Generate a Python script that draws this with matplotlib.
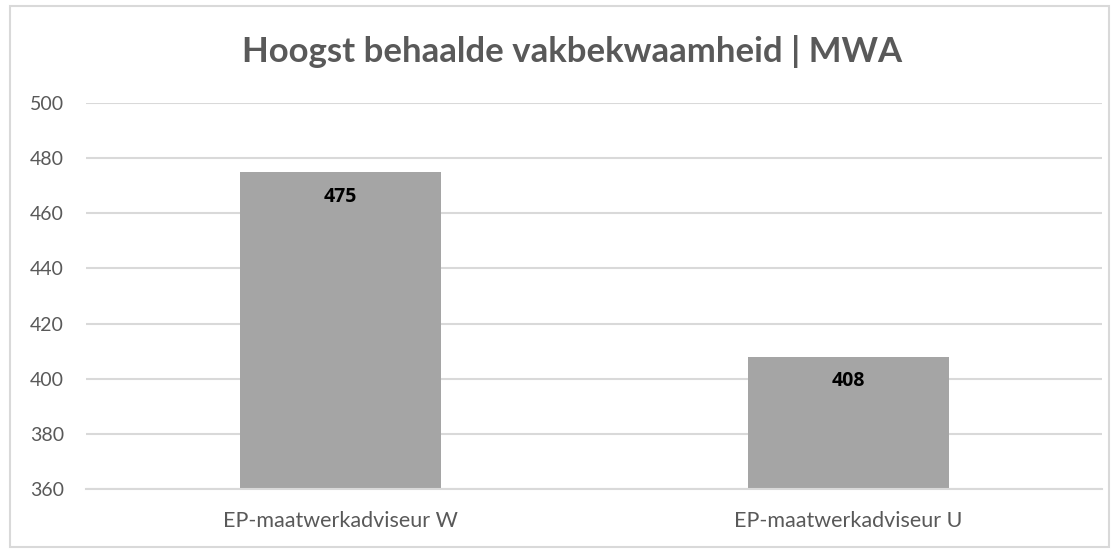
import matplotlib.pyplot as plt
from matplotlib.patches import Rectangle

categories = ['EP-maatwerkadviseur W', 'EP-maatwerkadviseur U']
values = [475, 408]
yticks = [360, 380, 400, 420, 440, 460, 480, 500]

plt.rcParams['font.family'] = ['Lato', 'DejaVu Sans']

fig = plt.figure(figsize=(11.19, 5.53), dpi=100)
ax = fig.add_axes([0.077, 0.1157, 0.908, 0.698])

x = range(len(categories))
bars = ax.bar(x, values, width=0.396, color='#A5A5A5', zorder=2)
for b, v in zip(bars, values):
    ax.text(b.get_x() + b.get_width() / 2, v - 9, str(v), ha='center', va='center',
            fontsize=14, fontweight='bold', color='black', family=['Open Sans', 'DejaVu Sans'])

ax.set_xlim(-0.5, 1.5)
ax.set_ylim(360, 500)
ax.set_yticks(yticks)
ax.set_xticks(list(x))
ax.set_xticklabels(categories)
ax.yaxis.grid(True, color='#D9D9D9', linewidth=1.5, zorder=0)
ax.tick_params(axis='both', length=0, labelcolor='#595959')
ax.tick_params(axis='y', pad=16, labelsize=14)
ax.tick_params(axis='x', pad=16, labelsize=15.5)
for s in ax.spines.values():
    s.set_visible(False)
ax.spines['bottom'].set_visible(True)
ax.spines['bottom'].set_color('#D9D9D9')
ax.spines['bottom'].set_linewidth(1.5)

fig.text(0.511, 0.906, 'Hoogst behaalde vakbekwaamheid | MWA', ha='center', va='center',
         fontsize=25, fontweight='bold', color='#595959')

fig.patches.append(Rectangle((0.009, 0.01), 0.982, 0.98, transform=fig.transFigure,
                             fill=False, edgecolor='#D9D9D9', linewidth=1.5))

fig.savefig('out.png', dpi=100, facecolor='white')
